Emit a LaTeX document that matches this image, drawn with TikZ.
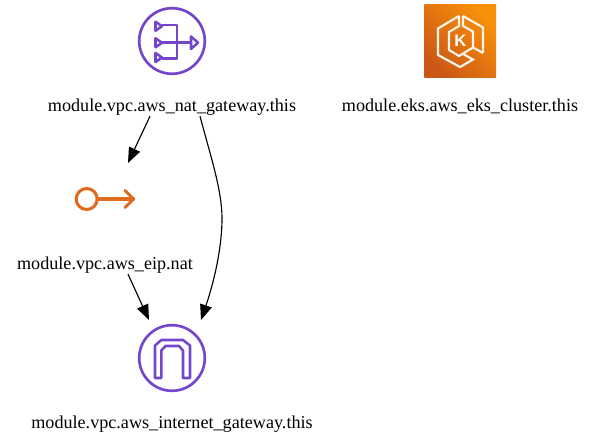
\documentclass[tikz,border=0pt]{standalone}
\usepackage{fontspec}
\setmainfont{Liberation Serif}
\setsansfont{Liberation Sans}
\usetikzlibrary{arrows.meta}
\usetikzlibrary{positioning}
\definecolor{awspurple}{HTML}{7446CB}
\definecolor{awsorange}{HTML}{DD6B20}
\definecolor{ekslow}{HTML}{CB5716}
\definecolor{ekshigh}{HTML}{F8910A}
\tikzset{
	icon/.style={minimum size=54pt,inner sep=0pt,outer sep=0pt},
	name label/.style={font=\fontsize{13.6pt}{14pt}\selectfont,inner sep=0pt,text height=9.5pt,text depth=3pt,below=16.5pt of #1},
	edge/.style={-{Triangle[length=11.5pt,width=9pt]},line width=0.85pt,black},
	purple line/.style={awspurple,line width=2pt},
	purple thin/.style={awspurple,line width=1.9pt,line join=round},
	orange line/.style={awsorange,line width=2.3pt,line cap=round,line join=round},
	eks line/.style={white!92!orange,line width=1.6pt,line join=miter}
}
\begin{document}
\begin{tikzpicture}[x=0.75pt,y=-0.75pt]
	\useasboundingbox (0,0) rectangle (595,438);
	\node[icon] (nat) at (172,41) {};
	\node[icon] (eks) at (460,41) {};
	\node[icon] (eip) at (105,199) {};
	\node[icon] (igw) at (172,358) {};
	\node[name label=nat] (natlabel) {module.vpc.aws\_nat\_gateway.this};
	\node[name label=eks] (ekslabel) {module.eks.aws\_eks\_cluster.this};
	\node[name label=eip] (eiplabel) {module.vpc.aws\_eip.nat};
	\node[name label=igw] (igwlabel) {module.vpc.aws\_internet\_gateway.this};
	% nat gateway
	\begin{scope}[shift={(nat.center)}]
		\draw[purple line] (0,0) circle (32.8);
		\draw[purple thin] (-10,-16) -- (5,-16) -- (5,17.3) -- (-10,17.3);
		\draw[purple thin] (-10,1.7) -- (18,1.7);
		\draw[purple thin] (-16.5,-19.3) -- (-10,-14.8) -- (-16.5,-10.3) -- cycle;
		\draw[purple thin] (-16.5,-2.7) -- (-10,1.8) -- (-16.5,6.3) -- cycle;
		\draw[purple thin] (-16.5,12) -- (-10,16.5) -- (-16.5,21) -- cycle;
		\draw[purple thin] (19,-4.5) -- (26,1.7) -- (19,8) -- cycle;
	\end{scope}
	% eks cluster
	\shade[bottom color=ekslow,top color=ekshigh,shading angle=-45] (424.3,5) rectangle (496,77.3);
	\begin{scope}[shift={(eks.center)}]
		\draw[eks line] (-1,-25) -- (-22,-12.5) -- (-22,14) -- (0,26) -- (13,18.5) -- (3,13);
		\draw[eks line] (-1,-25) -- (-1,-15) -- (-11,-9) -- (-11,9) -- (-1,15) -- (13,6.5) -- (23,12);
		\draw[eks line] (3,-25) -- (23,-13.5) -- (23,12);
		\draw[eks line] (3,-25) -- (3,-15) -- (13,-9.5) -- (13,6.5);
		\node[font=\sffamily\bfseries\fontsize{12.5pt}{12.5pt}\selectfont,text=white,inner sep=0pt] (ekssign) at (0.5,-0.5) {K};
	\end{scope}
	% elastic ip
	\begin{scope}[shift={(eip.center)}]
		\draw[orange line] (-18.3,0) circle (10.5);
		\draw[orange line] (-7.3,0) -- (28.5,0);
		\draw[orange line] (20,-8.5) -- (28.5,0) -- (20,8.5);
	\end{scope}
	% internet gateway
	\begin{scope}[shift={(igw.center)}]
		\draw[purple line] (0,0) circle (32.8);
		\draw[purple thin] (-17,20) -- (-17,-12.5) -- (-10.7,-18) -- (11,-18) -- (18,-12.5) -- (18,20) -- (11,20) -- (11,-7.5) -- (7,-12) -- (-6.5,-12) -- (-10.7,-7.5) -- (-10.7,20) -- cycle;
	\end{scope}
	% connectors
	\draw[edge] ([xshift=-16.5pt]natlabel.south) -- ([xshift=17.25pt]eip.north);
	\draw[edge] ([xshift=21pt]natlabel.south) .. controls +(10,38) and (222,190) .. (222,218) .. controls (222,250) and (213,285) .. ([xshift=21.75pt,yshift=1.5pt]igw.north);
	\draw[edge] ([xshift=17.25pt]eiplabel.south) -- ([xshift=-17.25pt,yshift=1.5pt]igw.north);
\end{tikzpicture}
\end{document}
